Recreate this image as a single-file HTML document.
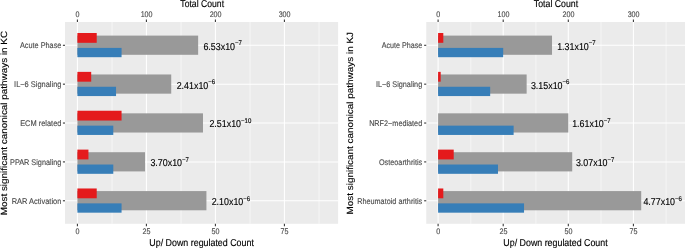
<!DOCTYPE html>
<html><head><meta charset="utf-8"><title>chart</title>
<style>
html,body{margin:0;padding:0;background:#fff;}
body{width:685px;height:248px;overflow:hidden;}
svg{display:block;font-family:"Liberation Sans",sans-serif;text-rendering:geometricPrecision;will-change:transform;}
</style></head><body>
<svg width="685" height="248" viewBox="0 0 685 248">
<rect width="685" height="248" fill="#fff"/>
<rect x="65.0" y="22.0" width="273.10" height="201.80" fill="#EBEBEB"/>
<line x1="112.05" x2="112.05" y1="22.0" y2="223.8" stroke="#fff" stroke-width="0.55"/>
<line x1="181.05" x2="181.05" y1="22.0" y2="223.8" stroke="#fff" stroke-width="0.55"/>
<line x1="250.05" x2="250.05" y1="22.0" y2="223.8" stroke="#fff" stroke-width="0.55"/>
<line x1="319.05" x2="319.05" y1="22.0" y2="223.8" stroke="#fff" stroke-width="0.55"/>
<line x1="77.40" x2="77.40" y1="22.0" y2="223.8" stroke="#fff" stroke-width="1.07"/>
<line x1="146.40" x2="146.40" y1="22.0" y2="223.8" stroke="#fff" stroke-width="1.07"/>
<line x1="215.40" x2="215.40" y1="22.0" y2="223.8" stroke="#fff" stroke-width="1.07"/>
<line x1="284.40" x2="284.40" y1="22.0" y2="223.8" stroke="#fff" stroke-width="1.07"/>
<line x1="65.0" x2="338.1" y1="45.30" y2="45.30" stroke="#fff" stroke-width="1.07"/>
<line x1="65.0" x2="338.1" y1="84.17" y2="84.17" stroke="#fff" stroke-width="1.07"/>
<line x1="65.0" x2="338.1" y1="123.04" y2="123.04" stroke="#fff" stroke-width="1.07"/>
<line x1="65.0" x2="338.1" y1="161.91" y2="161.91" stroke="#fff" stroke-width="1.07"/>
<line x1="65.0" x2="338.1" y1="200.78" y2="200.78" stroke="#fff" stroke-width="1.07"/>
<rect x="77.40" y="35.60" width="120.75" height="19.2" fill="#999999"/>
<rect x="77.40" y="33.00" width="19.32" height="9.8" fill="#E41A1C"/>
<rect x="77.40" y="47.90" width="44.16" height="9.3" fill="#377EB8"/>
<text transform="translate(203.40,49.75) scale(0.889,1)" font-size="10" fill="#000" stroke="#000" stroke-width="0.14">6.53x10<tspan font-size="6.8" dy="-4.4">−7</tspan></text>
<text transform="translate(61.40,48.20) scale(0.8939,1)" font-size="8.2" text-anchor="end" fill="#4D4D4D" stroke="#4D4D4D" stroke-width="0.14">Acute Phase</text>
<line x1="62.90" x2="65.0" y1="45.30" y2="45.30" stroke="#333" stroke-width="1.07"/>
<rect x="77.40" y="74.47" width="93.84" height="19.2" fill="#999999"/>
<rect x="77.40" y="71.87" width="13.80" height="9.8" fill="#E41A1C"/>
<rect x="77.40" y="86.77" width="38.64" height="9.3" fill="#377EB8"/>
<text transform="translate(176.65,88.62) scale(0.889,1)" font-size="10" fill="#000" stroke="#000" stroke-width="0.14">2.41x10<tspan font-size="6.8" dy="-4.4">−6</tspan></text>
<text transform="translate(61.40,87.07) scale(0.9079,1)" font-size="8.2" text-anchor="end" fill="#4D4D4D" stroke="#4D4D4D" stroke-width="0.14">IL−6 Signaling</text>
<line x1="62.90" x2="65.0" y1="84.17" y2="84.17" stroke="#333" stroke-width="1.07"/>
<rect x="77.40" y="113.34" width="125.58" height="19.2" fill="#999999"/>
<rect x="77.40" y="110.74" width="44.16" height="9.8" fill="#E41A1C"/>
<rect x="77.40" y="125.64" width="35.88" height="9.3" fill="#377EB8"/>
<text transform="translate(209.40,127.49) scale(0.889,1)" font-size="10" fill="#000" stroke="#000" stroke-width="0.14">2.51x10<tspan font-size="6.8" dy="-4.4">−10</tspan></text>
<text transform="translate(61.40,125.94) scale(0.9065,1)" font-size="8.2" text-anchor="end" fill="#4D4D4D" stroke="#4D4D4D" stroke-width="0.14">ECM related</text>
<line x1="62.90" x2="65.0" y1="123.04" y2="123.04" stroke="#333" stroke-width="1.07"/>
<rect x="77.40" y="152.21" width="67.62" height="19.2" fill="#999999"/>
<rect x="77.40" y="149.61" width="11.04" height="9.8" fill="#E41A1C"/>
<rect x="77.40" y="164.51" width="35.88" height="9.3" fill="#377EB8"/>
<text transform="translate(150.40,166.36) scale(0.889,1)" font-size="10" fill="#000" stroke="#000" stroke-width="0.14">3.70x10<tspan font-size="6.8" dy="-4.4">−7</tspan></text>
<text transform="translate(61.40,164.81) scale(0.8911,1)" font-size="8.2" text-anchor="end" fill="#4D4D4D" stroke="#4D4D4D" stroke-width="0.14">PPAR Signaling</text>
<line x1="62.90" x2="65.0" y1="161.91" y2="161.91" stroke="#333" stroke-width="1.07"/>
<rect x="77.40" y="191.08" width="129.03" height="19.2" fill="#999999"/>
<rect x="77.40" y="188.48" width="19.32" height="9.8" fill="#E41A1C"/>
<rect x="77.40" y="203.38" width="44.16" height="9.3" fill="#377EB8"/>
<text transform="translate(211.65,205.23) scale(0.889,1)" font-size="10" fill="#000" stroke="#000" stroke-width="0.14">2.10x10<tspan font-size="6.8" dy="-4.4">−6</tspan></text>
<text transform="translate(61.40,203.68) scale(0.9111,1)" font-size="8.2" text-anchor="end" fill="#4D4D4D" stroke="#4D4D4D" stroke-width="0.14">RAR Activation</text>
<line x1="62.90" x2="65.0" y1="200.78" y2="200.78" stroke="#333" stroke-width="1.07"/>
<line x1="77.40" x2="77.40" y1="19.5" y2="22.0" stroke="#333" stroke-width="1.07"/>
<line x1="77.40" x2="77.40" y1="223.8" y2="226.3" stroke="#333" stroke-width="1.07"/>
<text transform="translate(77.60,17.30) scale(0.8750,1)" font-size="8.2" text-anchor="middle" fill="#4D4D4D" stroke="#4D4D4D" stroke-width="0.14">0</text>
<text transform="translate(77.60,234.10) scale(0.8750,1)" font-size="8.2" text-anchor="middle" fill="#4D4D4D" stroke="#4D4D4D" stroke-width="0.14">0</text>
<line x1="146.40" x2="146.40" y1="19.5" y2="22.0" stroke="#333" stroke-width="1.07"/>
<line x1="146.40" x2="146.40" y1="223.8" y2="226.3" stroke="#333" stroke-width="1.07"/>
<text transform="translate(146.60,17.30) scale(0.8750,1)" font-size="8.2" text-anchor="middle" fill="#4D4D4D" stroke="#4D4D4D" stroke-width="0.14">100</text>
<text transform="translate(146.60,234.10) scale(0.8750,1)" font-size="8.2" text-anchor="middle" fill="#4D4D4D" stroke="#4D4D4D" stroke-width="0.14">25</text>
<line x1="215.40" x2="215.40" y1="19.5" y2="22.0" stroke="#333" stroke-width="1.07"/>
<line x1="215.40" x2="215.40" y1="223.8" y2="226.3" stroke="#333" stroke-width="1.07"/>
<text transform="translate(215.60,17.30) scale(0.8750,1)" font-size="8.2" text-anchor="middle" fill="#4D4D4D" stroke="#4D4D4D" stroke-width="0.14">200</text>
<text transform="translate(215.60,234.10) scale(0.8750,1)" font-size="8.2" text-anchor="middle" fill="#4D4D4D" stroke="#4D4D4D" stroke-width="0.14">50</text>
<line x1="284.40" x2="284.40" y1="19.5" y2="22.0" stroke="#333" stroke-width="1.07"/>
<line x1="284.40" x2="284.40" y1="223.8" y2="226.3" stroke="#333" stroke-width="1.07"/>
<text transform="translate(284.60,17.30) scale(0.8750,1)" font-size="8.2" text-anchor="middle" fill="#4D4D4D" stroke="#4D4D4D" stroke-width="0.14">300</text>
<text transform="translate(284.60,234.10) scale(0.8750,1)" font-size="8.2" text-anchor="middle" fill="#4D4D4D" stroke="#4D4D4D" stroke-width="0.14">75</text>
<text transform="translate(202.20,7.20) scale(0.8644,1)" font-size="10" text-anchor="middle" fill="#000" stroke="#000" stroke-width="0.14">Total Count</text>
<text transform="translate(201.60,245.80) scale(0.8868,1)" font-size="10" text-anchor="middle" fill="#000" stroke="#000" stroke-width="0.14">Up/ Down regulated Count</text>
<text transform="translate(7.00,123.10) rotate(-90) scale(0.9904,0.9)" font-size="10" text-anchor="middle" fill="#000" stroke="#000" stroke-width="0.14">Most significant canonical pathways in KC</text>
<rect x="426.25" y="22.0" width="259.75" height="201.80" fill="#EBEBEB"/>
<line x1="470.80" x2="470.80" y1="22.0" y2="223.8" stroke="#fff" stroke-width="0.55"/>
<line x1="535.90" x2="535.90" y1="22.0" y2="223.8" stroke="#fff" stroke-width="0.55"/>
<line x1="601.00" x2="601.00" y1="22.0" y2="223.8" stroke="#fff" stroke-width="0.55"/>
<line x1="666.10" x2="666.10" y1="22.0" y2="223.8" stroke="#fff" stroke-width="0.55"/>
<line x1="438.10" x2="438.10" y1="22.0" y2="223.8" stroke="#fff" stroke-width="1.07"/>
<line x1="503.20" x2="503.20" y1="22.0" y2="223.8" stroke="#fff" stroke-width="1.07"/>
<line x1="568.30" x2="568.30" y1="22.0" y2="223.8" stroke="#fff" stroke-width="1.07"/>
<line x1="633.40" x2="633.40" y1="22.0" y2="223.8" stroke="#fff" stroke-width="1.07"/>
<line x1="426.25" x2="686" y1="45.30" y2="45.30" stroke="#fff" stroke-width="1.07"/>
<line x1="426.25" x2="686" y1="84.17" y2="84.17" stroke="#fff" stroke-width="1.07"/>
<line x1="426.25" x2="686" y1="123.04" y2="123.04" stroke="#fff" stroke-width="1.07"/>
<line x1="426.25" x2="686" y1="161.91" y2="161.91" stroke="#fff" stroke-width="1.07"/>
<line x1="426.25" x2="686" y1="200.78" y2="200.78" stroke="#fff" stroke-width="1.07"/>
<rect x="438.10" y="35.60" width="113.92" height="19.2" fill="#999999"/>
<rect x="438.10" y="33.00" width="5.21" height="9.8" fill="#E41A1C"/>
<rect x="438.10" y="47.90" width="65.10" height="9.3" fill="#377EB8"/>
<text transform="translate(557.15,49.75) scale(0.889,1)" font-size="10" fill="#000" stroke="#000" stroke-width="0.14">1.31x10<tspan font-size="6.8" dy="-4.4">−7</tspan></text>
<text transform="translate(422.20,48.20) scale(0.8722,1)" font-size="8.2" text-anchor="end" fill="#4D4D4D" stroke="#4D4D4D" stroke-width="0.14">Acute Phase</text>
<line x1="424.15" x2="426.25" y1="45.30" y2="45.30" stroke="#333" stroke-width="1.07"/>
<rect x="438.10" y="74.47" width="88.54" height="19.2" fill="#999999"/>
<rect x="438.10" y="71.87" width="2.60" height="9.8" fill="#E41A1C"/>
<rect x="438.10" y="86.77" width="52.08" height="9.3" fill="#377EB8"/>
<text transform="translate(530.90,88.62) scale(0.889,1)" font-size="10" fill="#000" stroke="#000" stroke-width="0.14">3.15x10<tspan font-size="6.8" dy="-4.4">−6</tspan></text>
<text transform="translate(422.20,87.07) scale(0.8883,1)" font-size="8.2" text-anchor="end" fill="#4D4D4D" stroke="#4D4D4D" stroke-width="0.14">IL−6 Signaling</text>
<line x1="424.15" x2="426.25" y1="84.17" y2="84.17" stroke="#333" stroke-width="1.07"/>
<rect x="438.10" y="113.34" width="130.20" height="19.2" fill="#999999"/>
<rect x="438.10" y="125.64" width="75.52" height="9.3" fill="#377EB8"/>
<text transform="translate(572.15,127.49) scale(0.889,1)" font-size="10" fill="#000" stroke="#000" stroke-width="0.14">1.61x10<tspan font-size="6.8" dy="-4.4">−7</tspan></text>
<text transform="translate(422.20,125.94) scale(0.8868,1)" font-size="8.2" text-anchor="end" fill="#4D4D4D" stroke="#4D4D4D" stroke-width="0.14">NRF2−mediated</text>
<line x1="424.15" x2="426.25" y1="123.04" y2="123.04" stroke="#333" stroke-width="1.07"/>
<rect x="438.10" y="152.21" width="134.11" height="19.2" fill="#999999"/>
<rect x="438.10" y="149.61" width="15.62" height="9.8" fill="#E41A1C"/>
<rect x="438.10" y="164.51" width="59.89" height="9.3" fill="#377EB8"/>
<text transform="translate(575.90,166.36) scale(0.889,1)" font-size="10" fill="#000" stroke="#000" stroke-width="0.14">3.07x10<tspan font-size="6.8" dy="-4.4">−7</tspan></text>
<text transform="translate(422.20,164.81) scale(0.8885,1)" font-size="8.2" text-anchor="end" fill="#4D4D4D" stroke="#4D4D4D" stroke-width="0.14">Osteoarthritis</text>
<line x1="424.15" x2="426.25" y1="161.91" y2="161.91" stroke="#333" stroke-width="1.07"/>
<rect x="438.10" y="191.08" width="203.11" height="19.2" fill="#999999"/>
<rect x="438.10" y="188.48" width="5.21" height="9.8" fill="#E41A1C"/>
<rect x="438.10" y="203.38" width="85.93" height="9.3" fill="#377EB8"/>
<text transform="translate(643.40,205.23) scale(0.889,1)" font-size="10" fill="#000" stroke="#000" stroke-width="0.14">4.77x10<tspan font-size="6.8" dy="-4.4">−6</tspan></text>
<text transform="translate(422.20,203.68) scale(0.8871,1)" font-size="8.2" text-anchor="end" fill="#4D4D4D" stroke="#4D4D4D" stroke-width="0.14">Rheumatoid arthritis</text>
<line x1="424.15" x2="426.25" y1="200.78" y2="200.78" stroke="#333" stroke-width="1.07"/>
<line x1="438.10" x2="438.10" y1="19.5" y2="22.0" stroke="#333" stroke-width="1.07"/>
<line x1="438.10" x2="438.10" y1="223.8" y2="226.3" stroke="#333" stroke-width="1.07"/>
<text transform="translate(438.30,17.30) scale(0.8750,1)" font-size="8.2" text-anchor="middle" fill="#4D4D4D" stroke="#4D4D4D" stroke-width="0.14">0</text>
<text transform="translate(438.30,234.10) scale(0.8750,1)" font-size="8.2" text-anchor="middle" fill="#4D4D4D" stroke="#4D4D4D" stroke-width="0.14">0</text>
<line x1="503.20" x2="503.20" y1="19.5" y2="22.0" stroke="#333" stroke-width="1.07"/>
<line x1="503.20" x2="503.20" y1="223.8" y2="226.3" stroke="#333" stroke-width="1.07"/>
<text transform="translate(503.40,17.30) scale(0.8750,1)" font-size="8.2" text-anchor="middle" fill="#4D4D4D" stroke="#4D4D4D" stroke-width="0.14">100</text>
<text transform="translate(503.40,234.10) scale(0.8750,1)" font-size="8.2" text-anchor="middle" fill="#4D4D4D" stroke="#4D4D4D" stroke-width="0.14">25</text>
<line x1="568.30" x2="568.30" y1="19.5" y2="22.0" stroke="#333" stroke-width="1.07"/>
<line x1="568.30" x2="568.30" y1="223.8" y2="226.3" stroke="#333" stroke-width="1.07"/>
<text transform="translate(568.50,17.30) scale(0.8750,1)" font-size="8.2" text-anchor="middle" fill="#4D4D4D" stroke="#4D4D4D" stroke-width="0.14">200</text>
<text transform="translate(568.50,234.10) scale(0.8750,1)" font-size="8.2" text-anchor="middle" fill="#4D4D4D" stroke="#4D4D4D" stroke-width="0.14">50</text>
<line x1="633.40" x2="633.40" y1="19.5" y2="22.0" stroke="#333" stroke-width="1.07"/>
<line x1="633.40" x2="633.40" y1="223.8" y2="226.3" stroke="#333" stroke-width="1.07"/>
<text transform="translate(633.60,17.30) scale(0.8750,1)" font-size="8.2" text-anchor="middle" fill="#4D4D4D" stroke="#4D4D4D" stroke-width="0.14">300</text>
<text transform="translate(633.60,234.10) scale(0.8750,1)" font-size="8.2" text-anchor="middle" fill="#4D4D4D" stroke="#4D4D4D" stroke-width="0.14">75</text>
<text transform="translate(556.00,7.20) scale(0.8763,1)" font-size="10" text-anchor="middle" fill="#000" stroke="#000" stroke-width="0.14">Total Count</text>
<text transform="translate(555.50,245.80) scale(0.8851,1)" font-size="10" text-anchor="middle" fill="#000" stroke="#000" stroke-width="0.14">Up/ Down regulated Count</text>
<text transform="translate(353.30,123.25) rotate(-90) scale(0.9921,0.9)" font-size="10" text-anchor="middle" fill="#000" stroke="#000" stroke-width="0.14">Most significant canonical pathways in KJ</text>
</svg>
</body></html>
